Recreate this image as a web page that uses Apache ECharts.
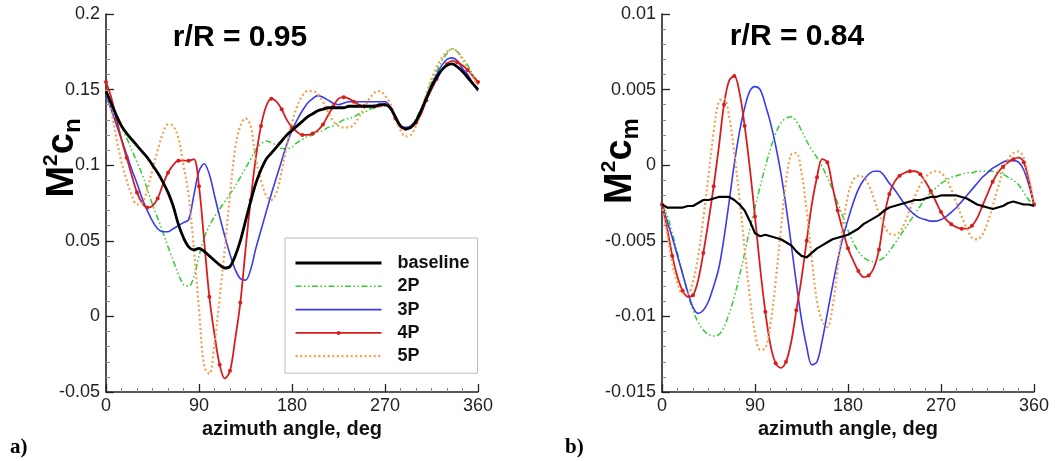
<!DOCTYPE html>
<html><head><meta charset="utf-8">
<script src="https://cdn.jsdelivr.net/npm/echarts@6/dist/echarts.min.js"></script>
<style>html,body{margin:0;padding:0;background:#fff}#c{width:1055px;height:461px}</style>
</head><body><div id="c"></div>
<script>
const angles = [0,5,10,15,20,25,30,35,40,45,50,55,60,65,70,75,80,85,90,95,100,105,110,115,120,125,130,135,140,145,150,155,160,165,170,175,180,185,190,195,200,205,210,215,220,225,230,235,240,245,250,255,260,265,270,275,280,285,290,295,300,305,310,315,320,325,330,335,340,345,350,355,360];
const seriesNames = ['baseline','2P','3P','4P','5P'];
const xTicks = [0, 90, 180, 270, 360];

// Left panel: M^2 c_n at r/R = 0.95
const cnBaseline = [0.149,0.141,0.133,0.126,0.121,0.117,0.113,0.109,0.105,0.100,0.095,0.089,0.082,0.073,0.061,0.052,0.046,0.044,0.045,0.043,0.040,0.037,0.034,0.032,0.033,0.040,0.050,0.063,0.076,0.088,0.097,0.104,0.108,0.112,0.116,0.120,0.123,0.126,0.129,0.132,0.134,0.136,0.137,0.138,0.138,0.138,0.138,0.139,0.139,0.139,0.139,0.139,0.139,0.140,0.140,0.138,0.132,0.126,0.124,0.125,0.129,0.136,0.144,0.152,0.158,0.163,0.166,0.167,0.165,0.162,0.158,0.154,0.150];
const cn2P = [0.148,0.141,0.133,0.125,0.118,0.110,0.102,0.094,0.084,0.074,0.065,0.056,0.046,0.037,0.028,0.021,0.020,0.026,0.040,0.052,0.060,0.066,0.071,0.076,0.081,0.086,0.092,0.098,0.104,0.110,0.114,0.116,0.115,0.113,0.111,0.111,0.112,0.115,0.117,0.119,0.120,0.122,0.123,0.125,0.126,0.128,0.130,0.131,0.132,0.134,0.135,0.137,0.138,0.139,0.140,0.138,0.132,0.126,0.124,0.126,0.131,0.138,0.146,0.155,0.162,0.169,0.174,0.177,0.175,0.171,0.166,0.160,0.154];
const cn3P = [0.146,0.137,0.127,0.117,0.107,0.097,0.088,0.078,0.070,0.063,0.058,0.056,0.056,0.058,0.060,0.062,0.064,0.080,0.096,0.101,0.094,0.080,0.066,0.053,0.041,0.031,0.025,0.024,0.031,0.045,0.057,0.069,0.081,0.092,0.103,0.114,0.123,0.130,0.136,0.141,0.144,0.146,0.145,0.143,0.141,0.140,0.141,0.142,0.142,0.142,0.142,0.142,0.142,0.142,0.142,0.139,0.132,0.126,0.125,0.126,0.130,0.137,0.145,0.153,0.160,0.166,0.170,0.171,0.169,0.164,0.160,0.154,0.149];
const cn4P = [0.155,0.145,0.131,0.117,0.105,0.093,0.082,0.075,0.072,0.073,0.078,0.087,0.095,0.100,0.103,0.103,0.103,0.104,0.086,0.050,0.013,-0.012,-0.032,-0.041,-0.036,-0.015,0.009,0.044,0.077,0.105,0.126,0.139,0.144,0.142,0.137,0.130,0.125,0.122,0.120,0.120,0.121,0.123,0.127,0.133,0.139,0.144,0.145,0.144,0.142,0.140,0.139,0.139,0.139,0.139,0.140,0.138,0.131,0.125,0.124,0.125,0.128,0.134,0.143,0.150,0.157,0.163,0.167,0.169,0.168,0.166,0.163,0.159,0.155];
const cn5P = [0.150,0.136,0.118,0.102,0.090,0.080,0.074,0.075,0.084,0.097,0.110,0.121,0.127,0.126,0.118,0.100,0.080,0.045,0.005,-0.033,-0.038,-0.018,0.012,0.045,0.080,0.111,0.126,0.131,0.126,0.104,0.090,0.080,0.077,0.082,0.096,0.113,0.128,0.139,0.146,0.149,0.149,0.147,0.142,0.135,0.129,0.126,0.125,0.125,0.127,0.132,0.138,0.144,0.148,0.149,0.146,0.141,0.132,0.123,0.119,0.120,0.126,0.136,0.147,0.157,0.165,0.171,0.175,0.177,0.175,0.170,0.164,0.158,0.153];

// Right panel: M^2 c_m at r/R = 0.84
const cmBaseline = [-0.0026,-0.0028,-0.0028,-0.0028,-0.0028,-0.0027,-0.0027,-0.0025,-0.0023,-0.0023,-0.0022,-0.0021,-0.0021,-0.0021,-0.0023,-0.0026,-0.0030,-0.0037,-0.0045,-0.0047,-0.0046,-0.0047,-0.0048,-0.0049,-0.0051,-0.0053,-0.0057,-0.0060,-0.0061,-0.0058,-0.0055,-0.0053,-0.0051,-0.0049,-0.0048,-0.0047,-0.0046,-0.0044,-0.0042,-0.0039,-0.0037,-0.0035,-0.0033,-0.0030,-0.0028,-0.0027,-0.0026,-0.0025,-0.0024,-0.0023,-0.0023,-0.0022,-0.0021,-0.0021,-0.0020,-0.0020,-0.0020,-0.0020,-0.0021,-0.0022,-0.0024,-0.0026,-0.0027,-0.0028,-0.0029,-0.0028,-0.0027,-0.0025,-0.0024,-0.0025,-0.0026,-0.0026,-0.0027];
const cm2P = [-0.0026,-0.0033,-0.0045,-0.0058,-0.0072,-0.0085,-0.0096,-0.0104,-0.0109,-0.0112,-0.0113,-0.0112,-0.0107,-0.0098,-0.0087,-0.0073,-0.0058,-0.0042,-0.0028,-0.0014,-0.0001,0.0011,0.0021,0.0028,0.0031,0.0032,0.0029,0.0023,0.0016,0.0010,0.0005,-0.0001,-0.0008,-0.0016,-0.0025,-0.0034,-0.0043,-0.0051,-0.0057,-0.0061,-0.0063,-0.0064,-0.0063,-0.0061,-0.0057,-0.0052,-0.0047,-0.0042,-0.0037,-0.0032,-0.0027,-0.0022,-0.0018,-0.0015,-0.0012,-0.0010,-0.0008,-0.0007,-0.0006,-0.0005,-0.0005,-0.0004,-0.0004,-0.0004,-0.0004,-0.0005,-0.0006,-0.0008,-0.0010,-0.0013,-0.0018,-0.0023,-0.0027];
const cm3P = [-0.0026,-0.0037,-0.0048,-0.0060,-0.0072,-0.0084,-0.0094,-0.0098,-0.0096,-0.0090,-0.0080,-0.0068,-0.0048,-0.0024,0.0001,0.0022,0.0038,0.0049,0.0052,0.0050,0.0040,0.0028,0.0013,-0.0005,-0.0027,-0.0052,-0.0078,-0.0102,-0.0120,-0.0132,-0.0130,-0.0116,-0.0098,-0.0080,-0.0063,-0.0048,-0.0036,-0.0025,-0.0016,-0.0010,-0.0006,-0.0004,-0.0004,-0.0007,-0.0012,-0.0016,-0.0021,-0.0026,-0.0030,-0.0033,-0.0035,-0.0036,-0.0037,-0.0037,-0.0036,-0.0034,-0.0031,-0.0028,-0.0024,-0.0020,-0.0016,-0.0012,-0.0008,-0.0005,-0.0002,0.0000,0.0002,0.0003,0.0003,0.0002,-0.0003,-0.0013,-0.0026];
const cm4P = [-0.0026,-0.0042,-0.0060,-0.0074,-0.0083,-0.0087,-0.0086,-0.0076,-0.0058,-0.0037,-0.0014,0.0012,0.0040,0.0056,0.0059,0.0048,0.0026,-0.0002,-0.0034,-0.0068,-0.0097,-0.0119,-0.0131,-0.0134,-0.0130,-0.0117,-0.0096,-0.0075,-0.0050,-0.0026,-0.0008,0.0004,0.0002,-0.0014,-0.0030,-0.0043,-0.0055,-0.0063,-0.0070,-0.0074,-0.0073,-0.0068,-0.0056,-0.0034,-0.0019,-0.0011,-0.0007,-0.0005,-0.0004,-0.0004,-0.0006,-0.0011,-0.0017,-0.0024,-0.0031,-0.0036,-0.0039,-0.0041,-0.0042,-0.0042,-0.0040,-0.0035,-0.0027,-0.0019,-0.0011,-0.0005,-0.0001,0.0002,0.0004,0.0005,0.0002,-0.0010,-0.0026];
const cm5P = [-0.0026,-0.0045,-0.0065,-0.0078,-0.0085,-0.0085,-0.0077,-0.0060,-0.0035,-0.0007,0.0022,0.0042,0.0044,0.0032,0.0008,-0.0022,-0.0055,-0.0087,-0.0111,-0.0122,-0.0121,-0.0105,-0.0077,-0.0043,-0.0011,0.0007,0.0008,-0.0005,-0.0030,-0.0062,-0.0090,-0.0103,-0.0107,-0.0094,-0.0068,-0.0040,-0.0020,-0.0010,-0.0007,-0.0008,-0.0013,-0.0022,-0.0032,-0.0040,-0.0045,-0.0046,-0.0044,-0.0038,-0.0029,-0.0020,-0.0013,-0.0008,-0.0005,-0.0004,-0.0005,-0.0009,-0.0016,-0.0025,-0.0034,-0.0042,-0.0048,-0.0049,-0.0046,-0.0038,-0.0027,-0.0015,-0.0004,0.0004,0.0008,0.0009,0.0005,-0.0008,-0.0026];

const FF = '"Liberation Sans", Arial, Helvetica, sans-serif';
const colors = { baseline:'#000000', '2P':'#33cc33', '3P':'#3a3aee', '4P':'#d61e1e', '5P':'#f2a04e' };

function pairs(vals){ return angles.map((a,i)=>[a, vals[i]]); }

function mkSeries(name, vals, gi, isRight){
  const s = { name, type:'line', xAxisIndex:gi, yAxisIndex:gi, data:pairs(vals), smooth:0.35,
    symbol:'none', z: 2, lineStyle:{ color:colors[name], width:1.6 }, itemStyle:{color:colors[name]} };
  if (name==='baseline'){ s.lineStyle.width = isRight ? 2.2 : 2.8; s.z = 3; if (isRight) s.smooth = false; }
  if (name==='2P'){ s.lineStyle.type = [6,2.5,1.5,2.5,1.5,2.5]; s.lineStyle.width = 1.5; }
  if (name==='3P'){ s.lineStyle.width = 1.6; }
  if (name==='4P'){ s.lineStyle.width = 1.8; s.symbol='circle'; s.showSymbol=true; s.showAllSymbol=true;
    s.symbolSize = (v, p) => (p.dataIndex % 2 === 0 ? 4 : 0); }
  if (name==='5P'){ s.lineStyle.type = [2, 2.6]; s.lineStyle.width = 2.2; }
  return s;
}

function xAx(gi){
  return { type:'value', gridIndex:gi, min:xTicks[0], max:xTicks[xTicks.length-1], interval:90,
    name:'azimuth angle, deg', nameLocation:'middle', nameGap:22,
    nameTextStyle:{fontFamily:FF, fontWeight:'bold', fontSize:20, color:'#111'},
    axisLine:{onZero:false, lineStyle:{color:'#222', width:1.6}},
    axisTick:{inside:true, length:8, lineStyle:{color:'#222', width:1.3}},
    minorTick:{show:true, splitNumber:6, length:4, lineStyle:{color:'#888', width:1}},
    axisLabel:{fontFamily:FF, fontSize:18, color:'#222', margin:5},
    splitLine:{show:false} };
}
function yAx(gi, mn, mx, step){
  return { type:'value', gridIndex:gi, min:mn, max:mx, interval:step,
    axisLine:{show:true, onZero:false, lineStyle:{color:'#222', width:1.6}},
    axisTick:{show:true, inside:true, length:8, lineStyle:{color:'#222', width:1.3}},
    minorTick:{show:true, splitNumber:5, length:4, lineStyle:{color:'#888', width:1}},
    axisLabel:{fontFamily:FF, fontSize:18, color:'#222', margin:6, formatter:(v)=>String(+v.toFixed(4))},
    splitLine:{show:false} };
}

const series = [];
[cnBaseline, cn2P, cn3P, cn4P, cn5P].forEach((v,i)=>series.push(mkSeries(seriesNames[i], v, 0, false)));
[cmBaseline, cm2P, cm3P, cm4P, cm5P].forEach((v,i)=>series.push(mkSeries(seriesNames[i], v, 1, true)));

function yTitle(x, y, sub){
  return { type:'text', x, y, rotation:Math.PI/2, z:10,
    style:{ text:'{m|M}{s|2}{m|c}{b|'+sub+'}', fill:'#000', align:'center', verticalAlign:'middle',
      textAlign:'center', textVerticalAlign:'middle',
      rich:{ m:{fontFamily:FF, fontWeight:'bold', fontSize:38, lineHeight:44, fill:'#000'},
             s:{fontFamily:FF, fontWeight:'bold', fontSize:21, lineHeight:30, verticalAlign:'top', fill:'#000'},
             b:{fontFamily:FF, fontWeight:'bold', fontSize:24, lineHeight:27, verticalAlign:'bottom', fill:'#000'} } } };
}
function txt(x, y, t, font, align){
  return { type:'text', x, y, z:10, style:{ text:t, font, fill:'#000', align:align||'center', verticalAlign:'middle',
    textAlign:align||'center', textVerticalAlign:'middle' } };
}

const chart = echarts.init(document.getElementById('c'), null, {renderer:'canvas'});
chart.setOption({
  animation:false,
  backgroundColor:'#ffffff',
  grid:[ {left:106, top:14, width:372, height:378}, {left:662, top:14, width:372, height:378} ],
  xAxis:[xAx(0), xAx(1)],
  yAxis:[yAx(0, -0.05, 0.2, 0.05), yAx(1, -0.015, 0.01, 0.005)],
  legend:{ left:285, top:238, orient:'vertical', itemWidth:86, itemHeight:5, itemGap:5.3,
    padding:[16,8,8,9], backgroundColor:'#fff', borderColor:'#bbb', borderWidth:1, borderRadius:0,
    selectedMode:false,
    textStyle:{fontFamily:FF, fontWeight:'bold', fontSize:18, color:'#111', padding:[0,0,0,11]},
    data:[ {name:'baseline', itemStyle:{opacity:0}, lineStyle:{width:3}},
           {name:'2P', itemStyle:{opacity:0}, lineStyle:{width:1.5}},
           {name:'3P', itemStyle:{opacity:0}, lineStyle:{width:1.6}},
           {name:'4P', lineStyle:{width:1.8}},
           {name:'5P', itemStyle:{opacity:0}, lineStyle:{width:2.2}} ] },
  graphic:[
    txt(240, 38, 'r/R = 0.95', 'bold 30px '+FF),
    txt(797, 37, 'r/R = 0.84', 'bold 30px '+FF),
    yTitle(63, 158, 'n'),
    yTitle(621, 161, 'm'),
    txt(10, 448, 'a)', 'bold 21px "Liberation Serif", "Times New Roman", serif', 'left'),
    txt(565, 448, 'b)', 'bold 21px "Liberation Serif", "Times New Roman", serif', 'left')
  ],
  series
});
</script></body></html>
